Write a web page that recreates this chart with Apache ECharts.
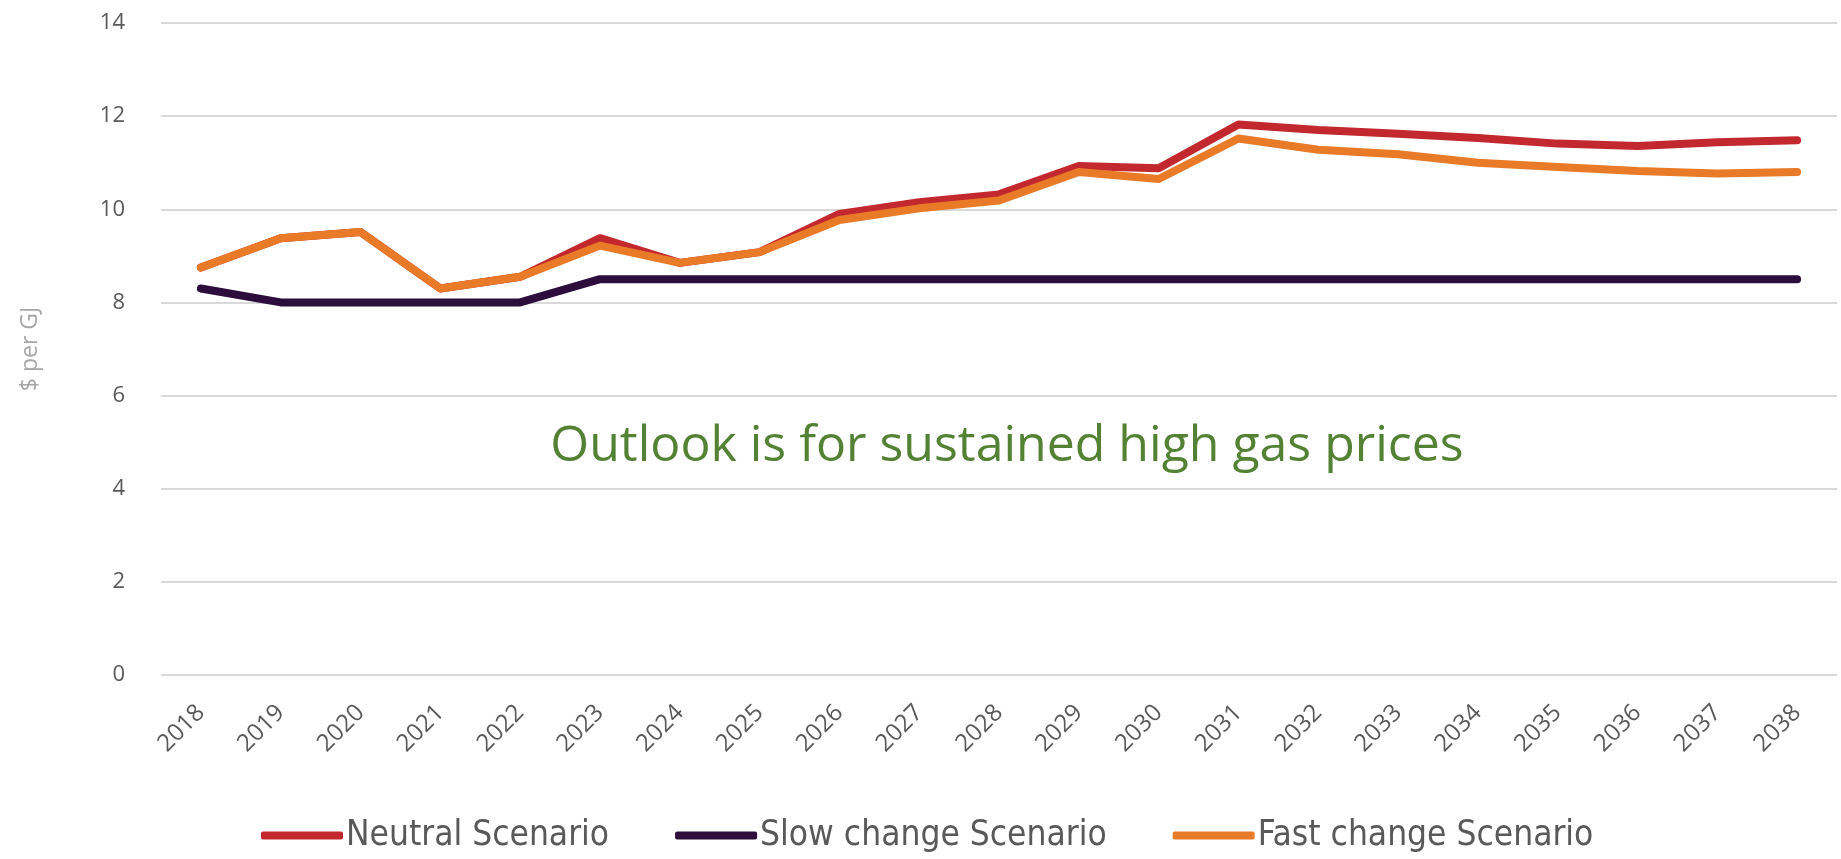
<!DOCTYPE html>
<html>
<head>
<meta charset="utf-8">
<script src="https://cdn.jsdelivr.net/npm/echarts@6/dist/echarts.min.js"></script>
<style>
  html, body { margin: 0; padding: 0; background: #fff; }
  #gas { width: 1841px; height: 859px; }
</style>
</head>
<body>
<div id="gas"></div>
<script>
// years on the x axis
var years = ['2018', '2019', '2020', '2021', '2022', '2023', '2024', '2025', '2026', '2027', '2028',
  '2029', '2030', '2031', '2032', '2033', '2034', '2035', '2036', '2037', '2038']

// $ per GJ
var neutral = [8.75, 9.38, 9.51, 8.30, 8.55, 9.38, 8.85, 9.08, 9.90, 10.15, 10.32,
  10.93, 10.88, 11.82, 11.70, 11.62, 11.53, 11.41, 11.36, 11.44, 11.48]
var slowChange = [8.30, 8.00, 8.00, 8.00, 8.00, 8.50, 8.50, 8.50, 8.50, 8.50, 8.50,
  8.50, 8.50, 8.50, 8.50, 8.50, 8.50, 8.50, 8.50, 8.50, 8.50]
var fastChange = [8.75, 9.38, 9.51, 8.30, 8.55, 9.22, 8.85, 9.08, 9.77, 10.02, 10.19,
  10.80, 10.65, 11.52, 11.28, 11.18, 11.00, 10.91, 10.82, 10.77, 10.80]

var yTicks = { min: 0, max: 14, interval: 2 }
var note = 'Outlook is for sustained high gas prices'

var chart = echarts.init(document.getElementById('gas'))

function lineSeries (name, data, color) {
  return {
    name: name,
    type: 'line',
    data: data,
    symbol: 'none',
    lineStyle: { width: 8, color: color, cap: 'round', join: 'round' },
    itemStyle: { color: color },
    animation: false
  }
}

chart.setOption({
  animation: false,
  grid: { left: 161, right: 4, top: 23, bottom: 184 },
  legend: {
    top: 813,
    left: 256,
    itemWidth: 82,
    itemHeight: 8,
    itemGap: 66,
    icon: 'roundRect',
    textStyle: {
      fontFamily: 'Liberation Sans Narrow, DejaVu Sans Condensed, sans-serif',
      fontSize: 35,
      color: '#595959',
      padding: [0, 0, 0, -2]
    },
    data: ['Neutral Scenario', 'Slow change Scenario', 'Fast change Scenario']
  },
  xAxis: {
    type: 'category',
    data: years,
    boundaryGap: true,
    axisLine: { show: false },
    axisTick: { show: false },
    axisLabel: {
      rotate: 45,
      margin: 34,
      fontSize: 24,
      fontFamily: 'Open Sans, sans-serif',
      color: '#595959'
    }
  },
  yAxis: {
    type: 'value',
    min: yTicks.min,
    max: yTicks.max,
    interval: yTicks.interval,
    name: '$ per GJ',
    nameLocation: 'middle',
    nameGap: 119,
    nameTextStyle: { fontSize: 23, fontFamily: 'Open Sans, sans-serif', color: '#a6a6a6' },
    axisLine: { show: false },
    axisTick: { show: false },
    axisLabel: {
      margin: 36,
      fontSize: 22,
      fontFamily: 'Open Sans, sans-serif',
      color: '#595959'
    },
    splitLine: { lineStyle: { color: '#d9d9d9', width: 2 } }
  },
  graphic: [{
    type: 'text',
    x: 1007,
    y: 447,
    style: {
      text: note,
      fontSize: 50,
      fontFamily: 'Open Sans, sans-serif',
      fill: '#548235',
      align: 'center',
      verticalAlign: 'middle'
    }
  }],
  series: [
    lineSeries('Neutral Scenario', neutral, '#c3282f'),
    lineSeries('Slow change Scenario', slowChange, '#2c0d3b'),
    lineSeries('Fast change Scenario', fastChange, '#e97a28')
  ]
})
</script>
</body>
</html>
